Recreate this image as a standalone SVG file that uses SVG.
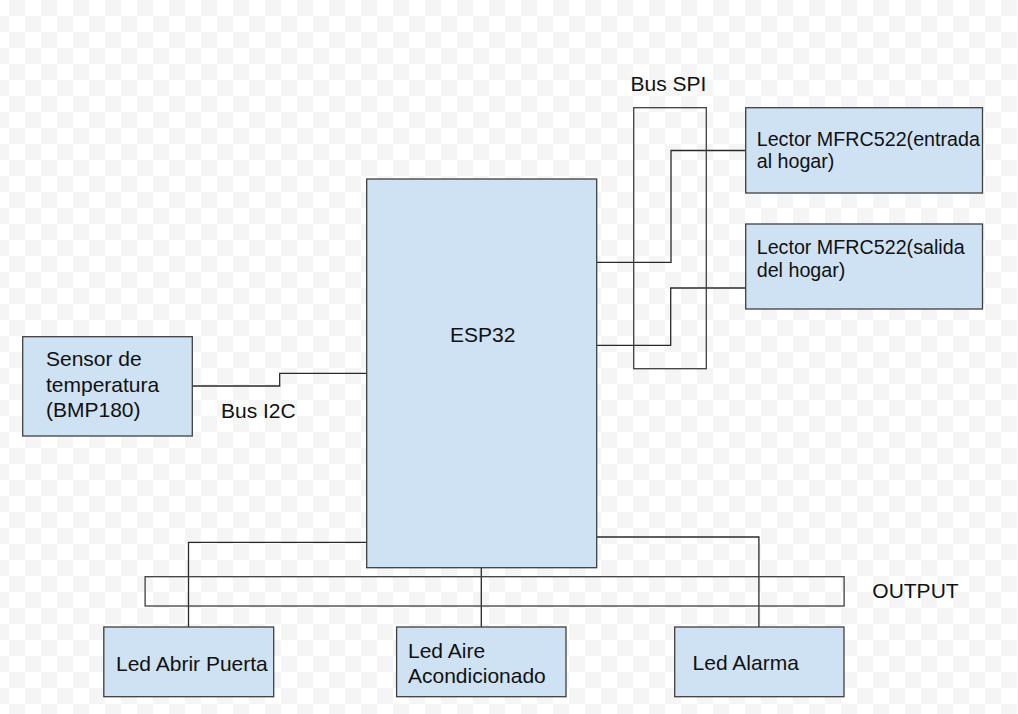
<svg xmlns="http://www.w3.org/2000/svg" width="1018" height="714" viewBox="0 0 1018 714">
<style>
.node{fill:#cfe2f3;stroke:#3f3f3f;stroke-width:1.3}
.frame{fill:none;stroke:#3f3f3f;stroke-width:1.3}
.wire{fill:none;stroke:#2a2a2a;stroke-width:1.3}
text{font-family:"Liberation Sans",Arial,sans-serif;font-size:21px;fill:#111}
.sm{font-size:19.7px}
</style>
<defs>
<pattern id="grid" patternUnits="userSpaceOnUse" x="9" y="0" width="32" height="32">
<rect x="0" y="0" width="32" height="32" fill="#ffffff"/>
<rect x="0" y="0" width="16" height="16" fill="#f5f5f5"/>
<rect x="16" y="16" width="16" height="16" fill="#f5f5f5"/>
</pattern>
</defs>
<rect x="0" y="0" width="1018" height="714" fill="url(#grid)"/>

<g id="connectors">
<polyline class="wire" points="597,262.3 671,262.3 671,150.5 745.5,150.5"/>
<polyline class="wire" points="597,345.3 670.7,345.3 670.7,288 745.5,288"/>
<polyline class="wire" points="192.5,386 279.7,386 279.7,373.3 367,373.3"/>
<polyline class="wire" points="367,542.3 188.5,542.3 188.5,627"/>
<polyline class="wire" points="481.3,567.7 481.3,627"/>
<polyline class="wire" points="597,537 758.9,537 758.9,627"/>
</g>

<g id="bus-spi">
<rect class="frame" x="633.7" y="107.7" width="72.6" height="261"/>
<text x="630.5" y="90.7" font-size="20.5">Bus SPI</text>
</g>

<g id="output-bus">
<rect class="frame" x="145.1" y="576.7" width="699" height="29.3"/>
<text x="872.3" y="598.3" font-size="20.7">OUTPUT</text>
</g>

<g id="esp32">
<rect class="node" x="366.7" y="179" width="230" height="388.7"/>
<text x="450" y="341.7" font-size="20">ESP32</text>
</g>

<g id="lector-entrada">
<rect class="node" x="745.7" y="107.7" width="236.8" height="85.3"/>
<text class="sm" x="756.7" y="146">Lector MFRC522(entrada</text>
<text class="sm" x="756.7" y="168.3">al hogar)</text>
</g>

<g id="lector-salida">
<rect class="node" x="745.7" y="224" width="236.8" height="85"/>
<text class="sm" x="756.7" y="254.3">Lector MFRC522(salida</text>
<text class="sm" x="756.7" y="276.7">del hogar)</text>
</g>

<g id="sensor">
<rect class="node" x="22.7" y="336.7" width="169.6" height="99.3"/>
<text x="46" y="365.7">Sensor de</text>
<text x="46" y="391.7">temperatura</text>
<text x="46" y="416.7">(BMP180)</text>
</g>

<text x="221" y="417.7" font-size="20.7">Bus I2C</text>

<g id="led-puerta">
<rect class="node" x="103.8" y="627" width="169.9" height="69.7"/>
<text x="116" y="670.7">Led Abrir Puerta</text>
</g>

<g id="led-aire">
<rect class="node" x="396.6" y="627" width="169.4" height="69.7"/>
<text x="408" y="657.7">Led Aire</text>
<text x="408" y="682.7">Acondicionado</text>
</g>

<g id="led-alarma">
<rect class="node" x="674.7" y="627" width="169.3" height="69.7"/>
<text x="692.6" y="670.3">Led Alarma</text>
</g>
</svg>
